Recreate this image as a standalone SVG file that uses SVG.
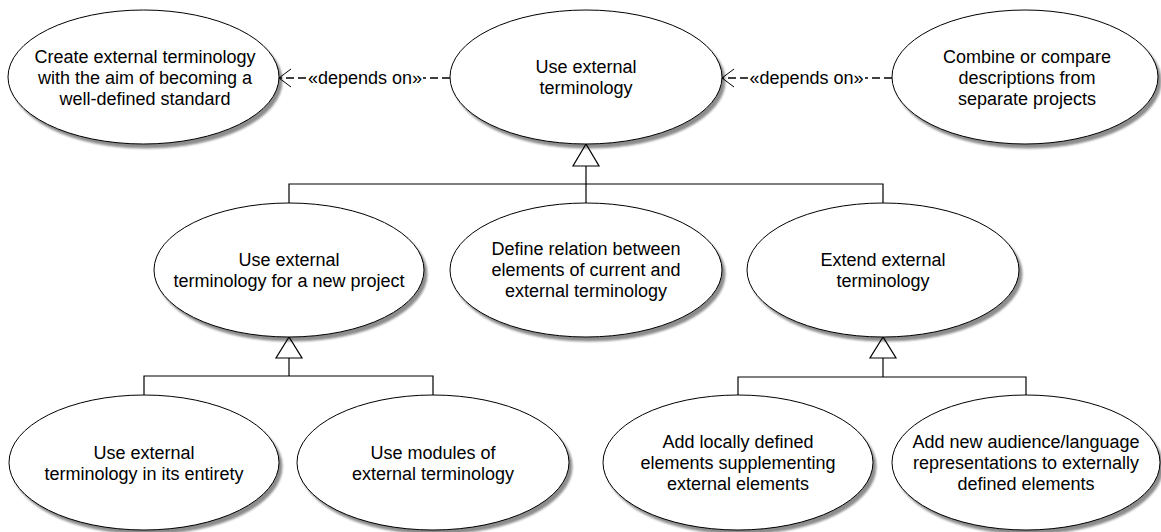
<svg xmlns="http://www.w3.org/2000/svg" width="1161" height="532" viewBox="0 0 1161 532">
<style>
  .uc ellipse { fill: #ffffff; stroke: #000000; stroke-width: 1; }
  .uc text { font-family: "Liberation Sans", Arial, sans-serif; font-size: 18px; fill: #000000; text-anchor: middle; }
  .gen { fill: none; stroke: #000000; stroke-width: 1.2; }
  .tri { fill: #ffffff; stroke: #000000; stroke-width: 1.2; }
  .dep { fill: none; stroke: #000000; stroke-width: 1.5; stroke-dasharray: 8 4; }
  .head { fill: none; stroke: #000000; stroke-width: 1; }
  .lbl { font-family: "Liberation Sans", Arial, sans-serif; font-size: 18px; fill: #000000; text-anchor: middle; }
</style>
<defs>
  <filter id="shadow" x="-5%" y="-5%" width="115%" height="120%">
    <feGaussianBlur in="SourceAlpha" stdDeviation="0.8"/>
    <feOffset dx="3" dy="4" result="b"/>
    <feFlood flood-color="#000000" flood-opacity="0.45"/>
    <feComposite in2="b" operator="in"/>
    <feMerge><feMergeNode/><feMergeNode in="SourceGraphic"/></feMerge>
  </filter>
</defs>
<rect width="1161" height="532" fill="#ffffff"/>

<g id="connectors">
  <!-- generalizations: top -->
  <polyline class="gen" points="289,203 289,184 883,184 883,203"/>
  <line class="gen" x1="586" y1="166" x2="586" y2="203"/>
  <polygon class="tri" points="586,144 573,166 599,166"/>
  <!-- generalizations: left -->
  <polyline class="gen" points="144,395 144,376 433,376 433,395"/>
  <line class="gen" x1="289" y1="358" x2="289" y2="376"/>
  <polygon class="tri" points="289,337 276,358 302,358"/>
  <!-- generalizations: right -->
  <polyline class="gen" points="738,395 738,377 1026,377 1026,395"/>
  <line class="gen" x1="883" y1="358" x2="883" y2="377"/>
  <polygon class="tri" points="883,337 870,358 896,358"/>
  <!-- dependency left -->
  <line class="dep" x1="450" y1="78" x2="280" y2="78"/>
  <polyline class="head" points="291,69 279,78 291,87"/>
  <rect x="306" y="66" width="117" height="22" fill="#ffffff"/>
  <text class="lbl" x="365" y="84">«depends on»</text>
  <!-- dependency right -->
  <line class="dep" x1="892" y1="78" x2="723" y2="78"/>
  <polyline class="head" points="734,69 722,78 734,87"/>
  <rect x="748" y="66" width="117" height="22" fill="#ffffff"/>
  <text class="lbl" x="806.5" y="84">«depends on»</text>
</g>

<g id="n1" class="uc">
  <ellipse cx="143.5" cy="77" rx="135.5" ry="67" filter="url(#shadow)"/>
  <text x="145" y="63">Create external terminology</text>
  <text x="145" y="84">with the aim of becoming a</text>
  <text x="145" y="105">well-defined standard</text>
</g>
<g id="n2" class="uc">
  <ellipse cx="586" cy="77" rx="136" ry="67" filter="url(#shadow)"/>
  <text x="586" y="73">Use external</text>
  <text x="586" y="94">terminology</text>
</g>
<g id="n3" class="uc">
  <ellipse cx="1025" cy="77" rx="133" ry="67" filter="url(#shadow)"/>
  <text x="1027" y="63">Combine or compare</text>
  <text x="1027" y="84">descriptions from</text>
  <text x="1027" y="105">separate projects</text>
</g>
<g id="n4" class="uc">
  <ellipse cx="289" cy="270" rx="135" ry="67" filter="url(#shadow)"/>
  <text x="289" y="266">Use external</text>
  <text x="289" y="287">terminology for a new project</text>
</g>
<g id="n5" class="uc">
  <ellipse cx="586" cy="270" rx="136" ry="67" filter="url(#shadow)"/>
  <text x="586" y="255">Define relation between</text>
  <text x="586" y="276">elements of current and</text>
  <text x="586" y="297">external terminology</text>
</g>
<g id="n6" class="uc">
  <ellipse cx="883" cy="270" rx="136" ry="67" filter="url(#shadow)"/>
  <text x="883" y="266">Extend external</text>
  <text x="883" y="287">terminology</text>
</g>
<g id="n7" class="uc">
  <ellipse cx="144" cy="462.5" rx="135" ry="67.5" filter="url(#shadow)"/>
  <text x="144" y="459">Use external</text>
  <text x="144" y="480">terminology in its entirety</text>
</g>
<g id="n8" class="uc">
  <ellipse cx="433" cy="462.5" rx="136" ry="67.5" filter="url(#shadow)"/>
  <text x="433" y="459">Use modules of</text>
  <text x="433" y="480">external terminology</text>
</g>
<g id="n9" class="uc">
  <ellipse cx="738" cy="462.5" rx="135" ry="67.5" filter="url(#shadow)"/>
  <text x="738" y="448">Add locally defined</text>
  <text x="738" y="469">elements supplementing</text>
  <text x="738" y="490">external elements</text>
</g>
<g id="n10" class="uc">
  <ellipse cx="1026" cy="462.5" rx="134" ry="67.5" filter="url(#shadow)"/>
  <text x="1026" y="448">Add new audience/language</text>
  <text x="1026" y="469">representations to externally</text>
  <text x="1026" y="490">defined elements</text>
</g>
</svg>
